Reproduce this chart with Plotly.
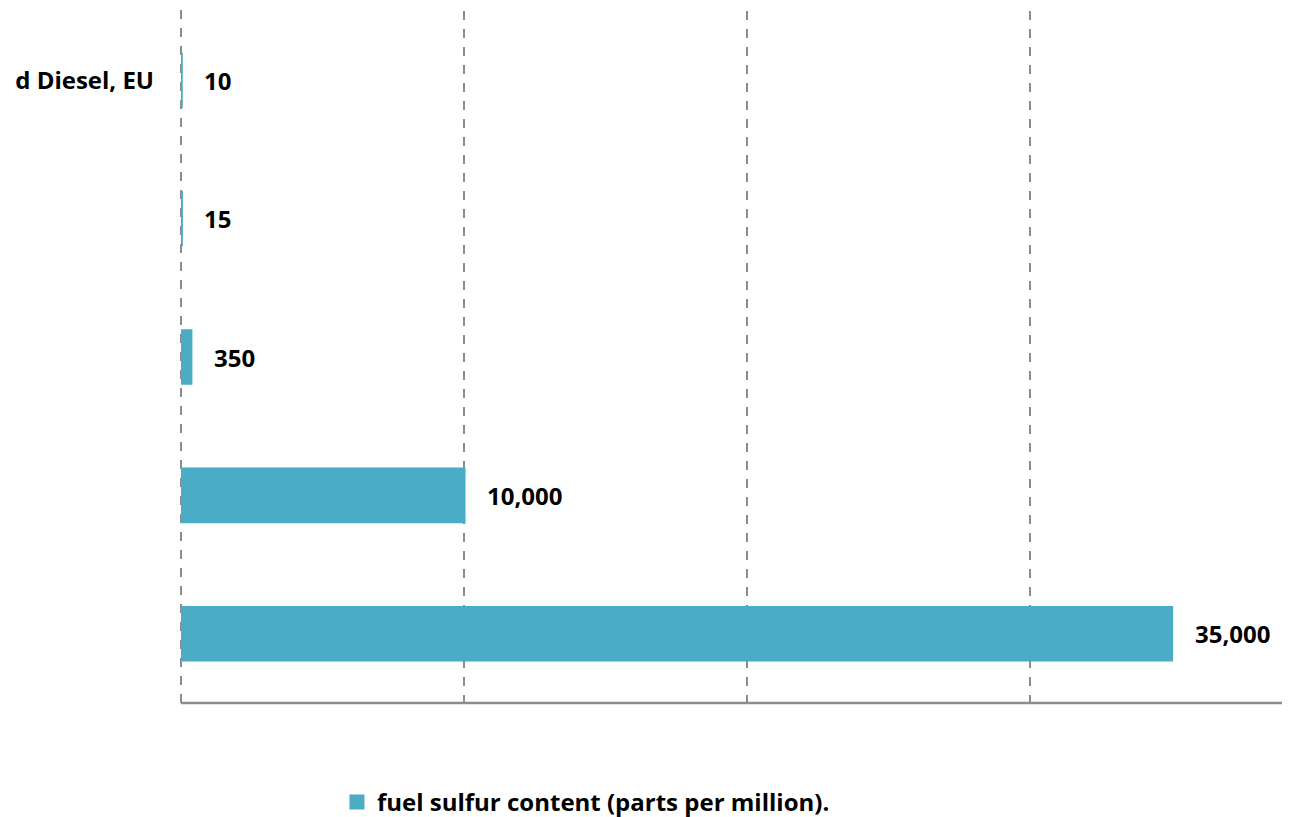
import plotly.graph_objects as go

categories = ["d Diesel, EU", "cat2", "cat3", "cat4", "cat5"]
tick_labels = ["d Diesel, EU", "", "", "", ""]
values = [10, 15, 350, 10000, 35000]
value_labels = ["10", "15", "350", "10,000", "35,000"]
series_name = "fuel sulfur content (parts per million)."

BAR = "#4BACC6"
GRID = "#8c8c8c"
FONT = "'Open Sans', sans-serif"
FS = 24

fig = go.Figure()
fig.add_trace(go.Bar(
    y=categories, x=values, orientation="h", name=series_name,
    marker=dict(color=BAR, line=dict(width=3, color=BAR)), width=0.38,
    showlegend=True,
))

for c, v, t in zip(categories, values, value_labels):
    fig.add_annotation(x=v, y=c, text="<b>%s</b>" % t, showarrow=False,
                       xanchor="left", xshift=21, font=dict(size=FS, color="black", family=FONT))

fig.update_layout(
    width=1296, height=817,
    margin=dict(l=181, r=14, t=11, b=114),
    plot_bgcolor="white", paper_bgcolor="white",
    font=dict(family=FONT, size=FS, color="black"),
    legend=dict(orientation="h", xref="container", yref="container",
                x=0.26, y=0.018, xanchor="left", yanchor="middle",
                font=dict(size=FS, family=FONT, color="black", weight="bold"),
                itemwidth=30),
)
fig.update_xaxes(range=[0, 38900], showgrid=True, gridcolor=GRID, gridwidth=2,
                 griddash="dash", dtick=10000, tick0=0, showticklabels=False,
                 zeroline=False, showline=False, ticks="")
fig.update_yaxes(categoryorder="array", categoryarray=categories[::-1],
                 tickmode="array", tickvals=categories, ticktext=tick_labels,
                 tickfont=dict(size=FS, family=FONT, color="black", weight="bold"),
                 ticklabelstandoff=26, showgrid=False, zeroline=False, showline=False)
# zero gridline (dashed) and bottom axis line
fig.add_shape(type="line", xref="paper", yref="paper", x0=0, x1=0, y0=0, y1=1.005,
              line=dict(color=GRID, width=2, dash="dash"), layer="below")
fig.add_shape(type="line", xref="paper", yref="paper", x0=0, x1=1, y0=0, y1=0,
              line=dict(color=GRID, width=2.5))

fig.write_html("out.html")
